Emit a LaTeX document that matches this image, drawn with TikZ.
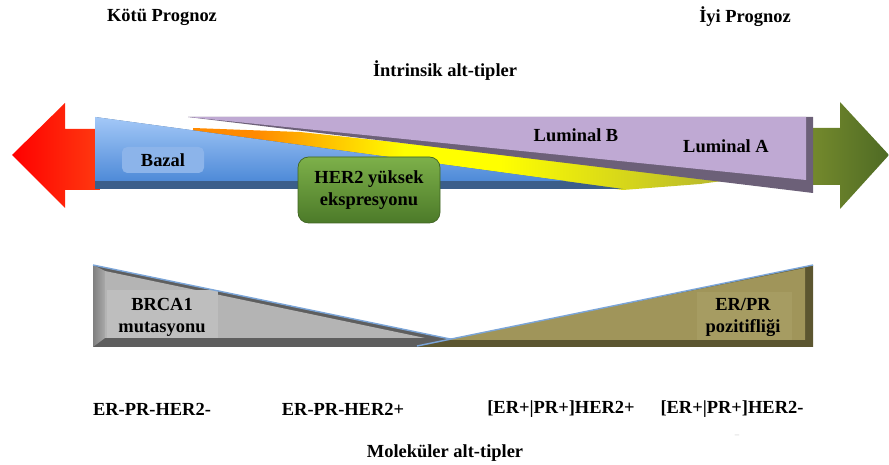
\documentclass[tikz,border=0pt]{standalone}
\usepackage{fontspec}
\setmainfont{Liberation Serif}
\usepackage{tikz}
\usepackage{xcolor}
\definecolor{bad_red}{HTML}{FF0000}
\definecolor{bad_red_2}{HTML}{FF3A10}
\definecolor{good_green}{HTML}{768B2D}
\definecolor{good_green_2}{HTML}{4E6A24}
\definecolor{basal_top}{HTML}{A3C8F7}
\definecolor{basal_bot}{HTML}{4E8AD8}
\definecolor{basal_dark}{HTML}{3B5E8A}
\definecolor{basal_box}{HTML}{8CB4EA}
\definecolor{lum_face}{HTML}{BFA9D3}
\definecolor{lum_dark}{HTML}{6C6078}
\definecolor{her_top}{HTML}{7DB04A}
\definecolor{her_bot}{HTML}{4C7A29}
\definecolor{her_edge}{HTML}{3F6322}
\definecolor{brca_face}{HTML}{B4B4B4}
\definecolor{brca_box}{HTML}{BEBEBE}
\definecolor{brca_dark}{HTML}{5E5E5E}
\definecolor{erpr_face}{HTML}{A0955A}
\definecolor{erpr_box}{HTML}{A69C62}
\definecolor{erpr_dark}{HTML}{5C5630}
\definecolor{edge_blue}{HTML}{7BA5D8}
\definecolor{her_orange}{HTML}{FF8A00}
\definecolor{her_yellow}{HTML}{FFFF00}
\definecolor{her_olive}{HTML}{BDBD2A}
\pgfdeclarehorizontalshading{her2ramp}{100bp}{color(0bp)=(her_orange); color(31bp)=(her_orange);
    color(45bp)=(her_yellow); color(54bp)=(her_yellow); color(73bp)=(her_olive); color(100bp)=(her_olive)}

\begin{document}
\begin{tikzpicture}[x=0.02cm, y=-0.02cm,
    lbl/.style={font=\fontsize{10.5}{12.5}\selectfont\bfseries, inner sep=0pt, align=center},
    tagbox/.style={rounded corners=3pt}
]
    \useasboundingbox (0,0) rectangle (889,465);

    % prognosis arrows
    \shade [left color=bad_red, right color=bad_red_2]
        (12,155) -- (65,103) -- (65,129) -- (100,129) -- (100,190) -- (65,190) -- (65,208) -- cycle;
    \shade [left color=good_green, right color=good_green_2]
        (808,128) -- (840,128) -- (840,102) -- (889,155) -- (840,209) -- (840,185) -- (808,185) -- cycle;

    % intrinsic subtypes
    \shade [shading=her2ramp]
        (193,128) -- (300,132) -- (440,147) -- (722,181) -- (700,184) -- (623,190) -- (193,134) -- cycle;
    \fill [basal_dark] (95,117) -- (623,189) -- (95,189) -- cycle;
    \shade [top color=basal_top, bottom color=basal_bot] (95,117) -- (565,181) -- (95,181) -- cycle;
    \fill [basal_box, tagbox] (122,147) rectangle (204,173);
    \fill [lum_dark] (188,117) -- (813,117) -- (813,193) -- cycle;
    \fill [lum_face] (188,117) -- (806,117) -- (806,180) -- cycle;
    \shade [top color=her_top, bottom color=her_bot, draw=her_edge, rounded corners=6pt]
        (298,157) rectangle (440,223);

    % molecular subtypes
    \fill [brca_dark] (93,265) -- (455,340) -- (440,347) -- (93,347) -- cycle;
    \shade [left color=gray, right color=brca_face!80!gray] (93,265) -- (105,271) -- (105,338) -- (93,347) -- cycle;
    \fill [brca_face] (105,271) -- (425,338) -- (105,338) -- cycle;
    \fill [brca_box] (107,290) rectangle (218,338);
    \draw [edge_blue, thick] (93,265) -- (455,340);
    \fill [erpr_dark] (813,265) -- (813,347) -- (417,347) -- cycle;
    \fill [erpr_face] (805,268) -- (805,340) -- (445,340) -- cycle;
    \fill [erpr_box] (697,292) rectangle (792,340);
    \draw [edge_blue, thick] (417,346) -- (813,265);

    \node[lbl] (poor) at (162,17) {Kötü Prognoz};
    \node[lbl] (good) at (745,17) {İyi Prognoz};
    \node[lbl] (intrinsic) at (445,71) {İntrinsik alt-tipler};
    \node[lbl] (basal) at (163,160) {Bazal};
    \node[lbl] (lumB) at (576,135) {Luminal B};
    \node[lbl] (lumA) at (726,146) {Luminal A};
    \node[lbl] (her2) at (369,190) {HER2 yüksek\\ekspresyonu};
    \node[lbl] (brca) at (162,317) {BRCA1\\mutasyonu};
    \node[lbl] (erpr) at (743,317) {ER/PR\\pozitifliği};
    \node[lbl] (tn) at (152,409) {ER-PR-HER2-};
    \node[lbl] (hpos) at (343,409) {ER-PR-HER2+};
    \node[lbl] (lumhpos) at (561,409) {[ER+|PR+]HER2+};
    \node[lbl] (lumhneg) at (732,409) {[ER+|PR+]HER2-};
    \node[lbl, text=gray!50, font=\tiny] (mark) at (737,436) {--};
    \node[lbl] (molecular) at (445,453) {Moleküler alt-tipler};
\end{tikzpicture}
\end{document}
